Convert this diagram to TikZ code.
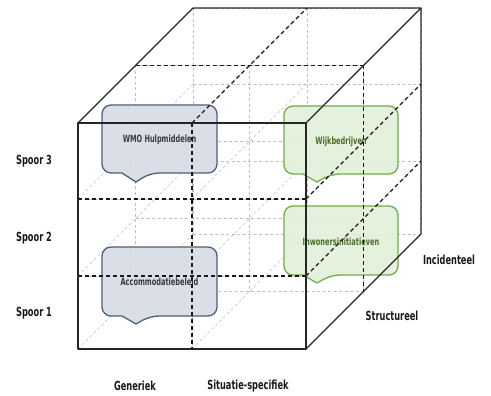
\documentclass[tikz,border=0pt]{standalone}
\usepackage{fontspec}
\setmainfont{DejaVu Sans}
\newfontfamily\labfont[FakeStretch=0.66]{DejaVu Sans Bold}
\newfontfamily\bubfont[FakeStretch=0.66]{DejaVu Sans Bold}
\definecolor{bubblue}{HTML}{D6DCE5}
\definecolor{bubblueedge}{HTML}{4F5F78}
\definecolor{bubgreen}{HTML}{E2F0D9}
\definecolor{bubgreenedge}{HTML}{70AD47}
\definecolor{greentext}{HTML}{4B6B2B}
\definecolor{bluetext}{HTML}{3A3A3A}
\begin{document}
\begin{tikzpicture}[x=1pt,y=-1pt,
  hid/.style={draw=black!25,line width=0.5pt,dash pattern=on 3pt off 2.5pt},
  vis/.style={draw=black!90,line width=1.1pt,dash pattern=on 4pt off 3pt},
  edge/.style={draw=black!85,line width=1.2pt,line join=round},
  blueb/.style={draw=bubblueedge,fill=bubblue,fill opacity=0.93,line width=1.3pt,rounded corners=9pt},
  greenb/.style={draw=bubgreenedge,fill=bubgreen,fill opacity=0.93,line width=1.3pt,rounded corners=9pt},
  lab/.style={font=\labfont\fontsize{12.5}{14}\selectfont,text=black!90,inner sep=0pt},
  bubtxt/.style={font=\bubfont\fontsize{10}{12}\selectfont,inner sep=0pt}]
\useasboundingbox (0,0) rectangle (491,396);
% grid points
\foreach \i in {0,1,2}{
  \foreach \j/\yy in {0/123,1/199,2/276,3/349}{
    \foreach \k in {0,1,2}{
      \coordinate (p\i\j\k) at ({78+114*\i+57.5*\k},{\yy-57.5*\k});
    }}}
% hidden grid lines
\foreach \j in {0,...,3}{\foreach \k in {0,1,2}{\draw[hid] (p0\j\k) -- (p2\j\k);}}
\foreach \i in {0,1,2}{\foreach \k in {0,1,2}{\draw[hid] (p\i0\k) -- (p\i3\k);}}
\foreach \i in {0,1,2}{\foreach \j in {0,...,3}{\draw[hid] (p\i\j0) -- (p\i\j2);}}
% bubbles
\draw[blueb] (160,105) -- (217,105) -- (217,173) -- (150,173) [sharp corners] -- (136,182) -- (122,173) [rounded corners=9pt] -- (102,173) -- (102,105) -- cycle;
\draw[blueb] (160,247) -- (217,247) -- (217,316) -- (150,316) [sharp corners] -- (136,324) -- (122,316) [rounded corners=9pt] -- (102,316) -- (102,247) -- cycle;
\draw[greenb] (341,106) -- (398,106) -- (398,174) -- (331,174) [sharp corners] -- (317,182) -- (303,174) [rounded corners=9pt] -- (284,174) -- (284,106) -- cycle;
\draw[greenb] (341,206) -- (398,206) -- (398,275) -- (331,275) [sharp corners] -- (317,283) -- (303,275) [rounded corners=9pt] -- (284,275) -- (284,206) -- cycle;
\node[bubtxt,text=bluetext] (wmo) at (159.5,140) {WMO Hulpmiddelen};
\node[bubtxt,text=bluetext] (acc) at (159.5,282) {Accommodatiebeleid};
\node[bubtxt,text=greentext] (wijk) at (341,142) {Wijkbedrijven};
\node[bubtxt,text=greentext] (inw) at (341,242) {Inwonersinitiatieven};
% visible dashed division lines
\draw[vis] (p010) -- (p210);
\draw[vis] (p020) -- (p220);
\draw[vis] (p100) -- (p130);
\draw[vis] (p001) -- (p201);
\draw[vis] (p100) -- (p102);
\draw[vis] (p201) -- (p231);
\draw[vis] (p210) -- (p212);
\draw[vis] (p220) -- (p222);
% outline
\draw[edge] (p000) rectangle (p230);
\draw[edge] (p000) -- (p002) -- (p202) -- (p200);
\draw[edge] (p202) -- (p232) -- (p230);
% labels
\node[lab] (s3) at (34,161) {Spoor 3};
\node[lab] (s2) at (34,238) {Spoor 2};
\node[lab] (s1) at (34,313) {Spoor 1};
\node[lab] (gen) at (135,386) {Generiek};
\node[lab] (sit) at (248,386) {Situatie-specifiek};
\node[lab] (inc) at (449,260) {Incidenteel};
\node[lab] (str) at (392,316) {Structureel};
\end{tikzpicture}
\end{document}
